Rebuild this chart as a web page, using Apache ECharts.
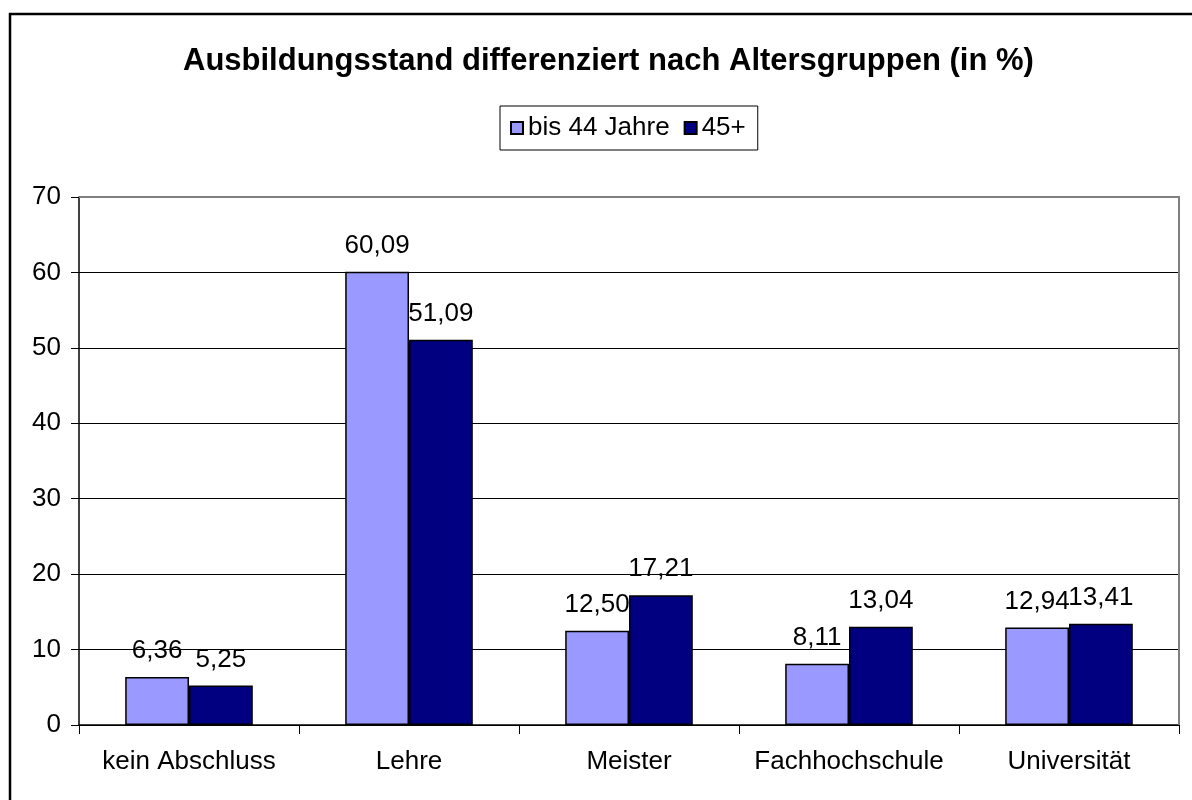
<!DOCTYPE html>
<html>
<head>
<meta charset="utf-8">
<script src="https://cdn.jsdelivr.net/npm/echarts@6/dist/echarts.min.js"></script>
<style>
  html, body { margin: 0; padding: 0; background: #fff; }
  #chart { width: 1192px; height: 800px; }
</style>
</head>
<body>
<div id="chart"></div>
<script>
'use strict';

// data
const categories = ['kein Abschluss', 'Lehre', 'Meister', 'Fachhochschule', 'Universität'];
const youngValues = [6.36, 60.09, 12.50, 8.11, 12.94];
const olderValues = [5.25, 51.09, 17.21, 13.04, 13.41];
const seriesNames = ['bis 44 Jahre', '45+'];

const font = 'Liberation Sans, Arial, sans-serif';

function fmt(p) {
  return p.value.toFixed(2).replace('.', ',');
}

function barSeries(name, values, color) {
  return {
    name: name,
    type: 'bar',
    data: values,
    barGap: '0%',
    barCategoryGap: '42%',
    itemStyle: { color: color, borderColor: '#000', borderWidth: 1.5 },
    label: {
      show: true,
      position: 'top',
      distance: 13,
      formatter: fmt,
      color: '#000',
      fontSize: 26,
      fontFamily: font
    }
  };
}

let chart = echarts.init(document.getElementById('chart'));

chart.setOption({
  backgroundColor: '#fff',
  animation: false,
  title: {
    text: 'Ausbildungsstand differenziert nach Altersgruppen (in %)',
    left: 178,
    top: 41,
    textStyle: { fontSize: 31, fontWeight: 'bold', fontFamily: font, color: '#000' }
  },
  legend: {
    top: 106,
    left: 500,
    data: seriesNames,
    icon: 'rect',
    itemWidth: 12,
    itemHeight: 12,
    itemGap: 14,
    padding: [9, 12, 9, 10],
    borderColor: '#000',
    borderWidth: 1,
    textStyle: { fontSize: 26, fontFamily: font, color: '#000' }
  },
  graphic: [
    {
      type: 'rect',
      shape: { x: 10, y: 14, width: 1200, height: 800 },
      style: { fill: 'none', stroke: '#000', lineWidth: 2.5 },
      z: 10
    },
    {
      // plot area frame: grey on top and right
      type: 'polyline',
      shape: { points: [[79, 197], [1179, 197], [1179, 725]] },
      style: { fill: 'none', stroke: '#808080', lineWidth: 2 },
      z: 10
    }
  ],
  grid: { left: 79, top: 197, width: 1100, height: 528 },
  xAxis: {
    type: 'category',
    data: categories,
    axisLine: { lineStyle: { color: '#000', width: 1.5 } },
    axisTick: { show: true, interval: 0, length: 9, alignWithLabel: false, lineStyle: { color: '#000' } },
    axisLabel: { interval: 0, fontSize: 26, fontFamily: font, color: '#000', margin: 24 }
  },
  yAxis: {
    type: 'value',
    min: 0,
    max: 70,
    interval: 10,
    axisLine: { show: true, lineStyle: { color: '#000', width: 1.5 } },
    axisTick: { show: true, length: 8, lineStyle: { color: '#000' } },
    axisLabel: { fontSize: 26, fontFamily: font, color: '#000', margin: 18 },
    splitLine: { lineStyle: { color: '#000', width: 1 } }
  },
  series: [
    barSeries(seriesNames[0], youngValues, '#9999FF'),
    barSeries(seriesNames[1], olderValues, '#000080')
  ]
});
</script>
</body>
</html>
